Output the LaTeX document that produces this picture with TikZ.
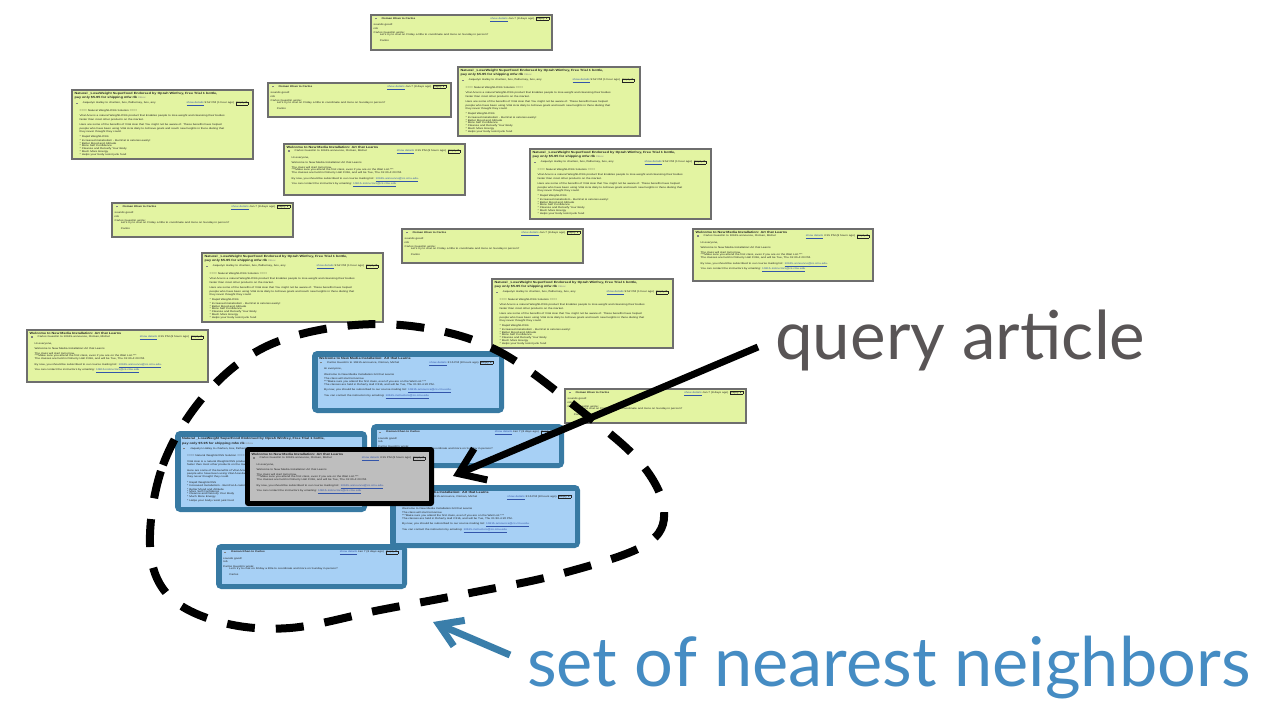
\documentclass[tikz,border=0pt]{standalone}
\usepackage{fontspec}
\setmainfont{Liberation Sans}
\newfontfamily\labelfont{Lato}
\usetikzlibrary{arrows.meta}
\definecolor{cardyellow}{HTML}{E3F4A2}
\definecolor{cardedge}{HTML}{6E6E6E}
\definecolor{bluefill}{HTML}{A7D0F5}
\definecolor{blueedge}{HTML}{387AA3}
\definecolor{querygray}{HTML}{BEBEBE}
\definecolor{labelgray}{HTML}{595556}
\definecolor{labelblue}{HTML}{458CC3}
\definecolor{arrowblue}{HTML}{3A7EAA}
\definecolor{linkcol}{HTML}{3355AA}
\definecolor{txtcol}{HTML}{222222}
\setlength{\fboxsep}{0.25pt}
\setlength{\fboxrule}{0.15pt}
\newcommand\titlefont{\fontsize{3}{3}\selectfont\bfseries}
\newcommand\emhdr[2]{\hspace*{1pt}{\color{gray}\rule{1.4pt}{1.4pt}}\hspace{4pt}#1\hfill{\color{linkcol}\underline{show details}}\ #2\ \ \fbox{Reply\,▼}\hspace*{1pt}}
\newcommand\cardbody[1]{\scalebox{1.25}[1]{\parbox[t]{140pt}{\raggedright\fontsize{2.5}{2.3}\selectfont #1}}}
\newcommand\shortc{\emhdr{\textbf{Osman Khan to Carlos}}{Jan 7 (8 days ago)}\\[1.6pt]
sounds good!\\{}rob\\[2.2pt]{}Carlos Guestrin wrote:\\{}\hspace*{5pt}Let's try to chat on Friday a little to coordinate and more on Sunday in person?\\[2.2pt]{}\hspace*{5pt}Carlos}
\newcommand\natc{{\titlefont Natural \_LoseWeight SuperFood Endorsed by Oprah Winfrey, Free Trial 1 bottle,\\[0.7pt]{}pay only \$5.95 for shipping mfw rlk}\ {\color{gray}Inbox}\\[1.2pt]{}\emhdr{Jaquelyn Halley to charlien, box, lfatherney, box, any}{9:52 PM (1 hour ago)}\par\vspace{2.5pt}\leftskip=4pt
{}==== Natural WeightLOSS Solution ====\\[2.2pt]{}Vital Acai is a natural WeightLOSS product that Enables people to lose weight and cleansing their bodies\\{}faster than most other products on the market.\\[2.2pt]{}Here are some of the benefits of Vital Acai that You might not be aware of. These benefits have helped\\{}people who have been using Vital Acai daily to Achieve goals and reach new heights in there dieting that\\{}they never thought they could.\\[2.2pt]{}* Rapid WeightLOSS\\{}* Increased metabolism - BurnFat \& calories easily!\\{}* Better Mood and Attitude\\{}* More Self Confidence\\{}* Cleanse and Detoxify Your Body\\{}* Much More Energy\\{}* Helps your body resist junk food}
\newcommand\welc{{\titlefont Welcome to New Media Installation: Art that Learns}\\[1.2pt]{}\emhdr{Carlos Guestrin to 10615-announce, Osman, Michel}{3:15 PM (8 hours ago)}\par\vspace{1.5pt}\leftskip=4pt
{}Hi everyone,\\[2.2pt]{}Welcome to New Media Installation:Art that Learns\\[2.2pt]{}The class will start tomorrow.\\{}***Make sure you attend the first class, even if you are on the Wait List.***\\{}The classes are held in Doherty Hall C316, and will be Tue, Thu 01:30-4:20 PM.\\[2.2pt]{}By now, you should be subscribed to our course mailing list: {\color{linkcol}\underline{10615-announce@cs.cmu.edu}}.\\{}You can contact the instructors by emailing: {\color{linkcol}\underline{10615-instructors@cs.cmu.edu}}}
\tikzset{
  ycardbox/.style={fill=cardyellow, draw=cardedge, line width=1.6pt},
  bcardout/.style={fill=blueedge, rounded corners=5pt},
  bcardin/.style={fill=bluefill},
  qcardout/.style={fill=black, rounded corners=3pt},
  qcardin/.style={fill=querygray},
  cardtext/.style={anchor=north west, inner sep=0pt, text=txtcol},
  nbrcurve/.style={line width=8pt, dash pattern=on 28pt off 21pt},
  bigarrow/.style={line width=7pt},
}
\newcommand\ycard[6]{%
  \draw[ycardbox] (#3,#4) rectangle (#5,#6);
  \begin{scope}\clip (#3+1,#4+1) rectangle (#5-1,#6-1);
  \node[cardtext] (#1) at (#3+2.5,#4+2) {\cardbody{#2}};
  \end{scope}}
\newcommand\bcard[6]{%
  \fill[bcardout] (#3,#4) rectangle (#5,#6);
  \fill[bcardin] (#3+5.5,#4+5.5) rectangle (#5-5.5,#6-5.5);
  \begin{scope}\clip (#3+5.5,#4+5.5) rectangle (#5-5.5,#6-5.5);
  \node[cardtext] (#1) at (#3+7,#4+6.5) {\cardbody{#2}};
  \end{scope}}
\newcommand\qcard[6]{%
  \fill[qcardout] (#3,#4) rectangle (#5,#6);
  \fill[qcardin] (#3+5,#4+5) rectangle (#5-5,#6-5);
  \begin{scope}\clip (#3+5,#4+5) rectangle (#5-5,#6-5);
  \node[cardtext] (#1) at (#3+6.5,#4+6) {\cardbody{#2}};
  \end{scope}}
\begin{document}
\begin{tikzpicture}[x=1pt,y=-1pt]
\fill[white] (0,0) rectangle (1264,704);
\useasboundingbox (0,0) rectangle (1264,704);
% background (non-neighbour) articles
\ycard{y1}{\shortc}{371}{15}{552}{50}
\ycard{y2}{\shortc}{268}{83}{451}{117}
\ycard{y3}{\natc}{458}{67}{640}{136}
\ycard{y4}{\natc}{72}{90}{253}{159}
\ycard{y5}{\welc}{284}{144}{465}{195}
\ycard{y6}{\natc}{530}{149}{711}{219}
\ycard{y7}{\shortc}{112}{203}{293}{237}
\ycard{y8}{\shortc}{402}{229}{583}{263}
\ycard{y9}{\welc}{693}{229}{873}{281}
\ycard{y10}{\natc}{202}{253}{383}{322}
\ycard{y11}{\natc}{492}{279}{673}{348}
\ycard{y12}{\welc}{27}{330}{208}{382}
\ycard{y13}{\shortc}{565}{389}{746}{423}
% nearest neighbours
\bcard{b1}{\welc}{312}{351}{504}{413}
\bcard{b2}{\natc}{175}{431}{367}{512}
\bcard{b3}{\shortc}{371}{424}{564}{468}
\bcard{b4}{\welc}{390}{485}{580}{548}
\bcard{b5}{\shortc}{216}{544}{407}{589}
% query
\qcard{query}{\welc}{245}{447}{434}{506}
% neighbourhood boundary
\draw[nbrcurve] plot[smooth cycle, tension=0.6] coordinates {(150,545) (163,465) (205,395) (265,347) (345,326) (425,328) (500,352) (580,410) (640,462) (664,510) (645,545) (560,574) (470,593) (380,610) (290,628) (220,622) (168,595)};
% labels
\node[anchor=north west, inner sep=0pt, text=labelgray] (qa) at (775,310) {\resizebox{370pt}{!}{\labelfont query article}};
\node[anchor=north west, inner sep=0pt, text=labelblue] (nn) at (527,636) {\resizebox{723pt}{!}{\labelfont set of nearest neighbors}};
\coordinate (qstart) at (758,347);
\coordinate (qtip) at (453,476);
\draw[bigarrow, -{Straight Barb[length=24pt,width=34pt]}] (qstart) -- (qtip);
\coordinate (bstart) at (510,655);
\coordinate (btip) at (433,622);
\draw[bigarrow, arrowblue, -{Straight Barb[length=22pt,width=28pt]}] (bstart) -- (btip);
\end{tikzpicture}
\end{document}
